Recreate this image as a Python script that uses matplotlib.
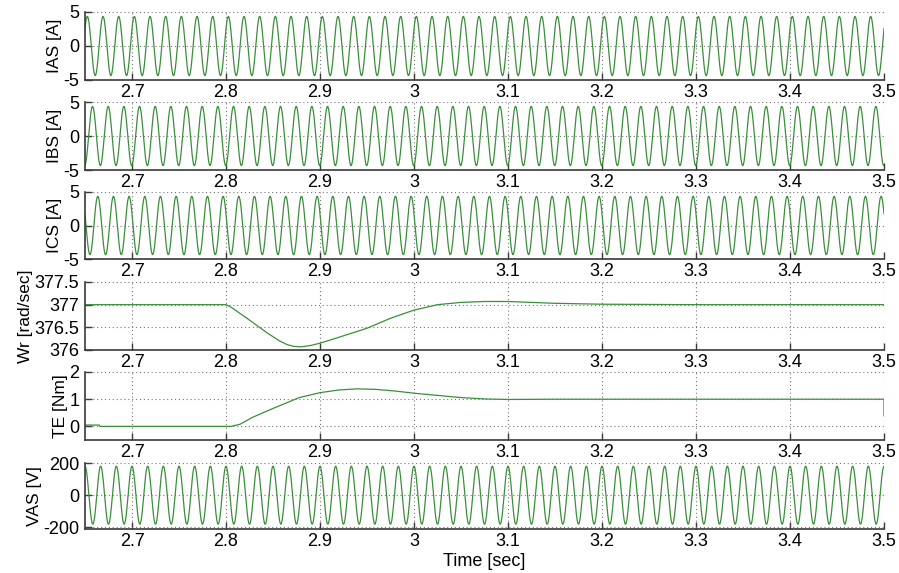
import numpy as np
import matplotlib.pyplot as plt

# time window shown
t_start, t_end = 2.65, 3.5
x_ticks = [2.7, 2.8, 2.9, 3.0, 3.1, 3.2, 3.3, 3.4, 3.5]
x_tick_labels = ['2.7', '2.8', '2.9', '3', '3.1', '3.2', '3.3', '3.4', '3.5']

# sinusoidal signals: amplitude, frequency (Hz) and time of a positive peak
f_supply = 60.0
ias_amp, ias_peak = 4.35, 2.6525
ibs_amp, ibs_peak = 4.35, 2.6580
ics_amp, ics_peak = 4.35, 2.6636
vas_amp, vas_peak = 180.0, 2.6500

# rotor speed (rad/sec)
wr_t = [2.65, 2.80, 2.805, 2.814, 2.825, 2.835, 2.845, 2.857, 2.865, 2.872, 2.88, 2.89,
        2.90, 2.92, 2.95, 2.975, 3.00, 3.025, 3.05, 3.075, 3.10, 3.125, 3.15, 3.20,
        3.30, 3.50]
wr_val = [377.0, 377.0, 376.95, 376.82, 376.66, 376.51, 376.36, 376.20, 376.12, 376.08, 376.07, 376.10,
          376.15, 376.28, 376.48, 376.70, 376.88, 377.00, 377.05, 377.07, 377.07, 377.05, 377.03, 377.01,
          377.0, 377.0]

# electromagnetic torque (Nm)
te_t = [2.65, 2.665, 2.666, 2.805, 2.815, 2.828, 2.85, 2.878, 2.90, 2.92, 2.94, 2.96,
        2.98, 3.00, 3.025, 3.05, 3.075, 3.10, 3.15, 3.50, 3.50]
te_val = [0.05, 0.05, 0.0, 0.0, 0.08, 0.33, 0.66, 1.06, 1.24, 1.34, 1.38, 1.36,
          1.30, 1.22, 1.14, 1.06, 1.01, 0.99, 1.0, 1.0, 0.39]

line_color = '#3a8f3a'
plt.rcParams['font.family'] = ['Liberation Sans', 'DejaVu Sans']

t = np.linspace(t_start, t_end, 20000)


def wave(amp, peak):
    return amp * np.cos(2 * np.pi * f_supply * (t - peak))


panels = [
    (t, wave(ias_amp, ias_peak), 'IAS [A]', (-5, 5), [-5, 0, 5], ['-5', '0', '5']),
    (t, wave(ibs_amp, ibs_peak), 'IBS [A]', (-5, 5), [-5, 0, 5], ['-5', '0', '5']),
    (t, wave(ics_amp, ics_peak), 'ICS [A]', (-5, 5), [-5, 0, 5], ['-5', '0', '5']),
    (wr_t, wr_val, 'Wr [rad/sec]', (376, 377.5), [376, 376.5, 377, 377.5],
     ['376', '376.5', '377', '377.5']),
    (te_t, te_val, 'TE [Nm]', (-0.5, 2), [0, 1, 2], ['0', '1', '2']),
    (t, wave(vas_amp, vas_peak), 'VAS [V]', (-210, 200), [-200, 0, 200], ['-200', '0', '200']),
]

W, H = 899, 573
fig = plt.figure(figsize=(W / 100, H / 100), dpi=100)
left_px, right_px = 85, 884
tops = [12, 102, 192, 282, 372, 463]
heights = [68, 68, 67, 68, 68, 66]

for (x, y, label, ylim, yt, ytl), top, h in zip(panels, tops, heights):
    ax = fig.add_axes([left_px / W, 1 - (top + h) / H, (right_px - left_px) / W, h / H])
    ax.plot(x, y, color=line_color, lw=0.9)
    ax.set_xlim(t_start, t_end)
    ax.set_ylim(*ylim)
    ax.set_xticks(x_ticks)
    ax.set_xticklabels(x_tick_labels)
    ax.set_yticks(yt)
    ax.set_yticklabels(ytl)
    ax.grid(True, linestyle=(0, (1, 2.5)), color='#777777', lw=0.8)
    for s in ['top', 'right']:
        ax.spines[s].set_visible(False)
    for s in ['left', 'bottom']:
        ax.spines[s].set_color('#3a3a3a')
        ax.spines[s].set_linewidth(1.2)
    ax.tick_params(direction='in', length=5, width=1, color='#3a3a3a',
                   labelsize=13)
    ax.tick_params(axis='x', pad=3)
    ax.tick_params(axis='y', pad=4)
    ax.set_ylabel(label, fontsize=12.5, labelpad=1)

fig.text((left_px + right_px) / 2 / W, 1 - 561 / H, 'Time [sec]', ha='center', va='center',
         fontsize=13)

fig.savefig('out.png', dpi=100)
